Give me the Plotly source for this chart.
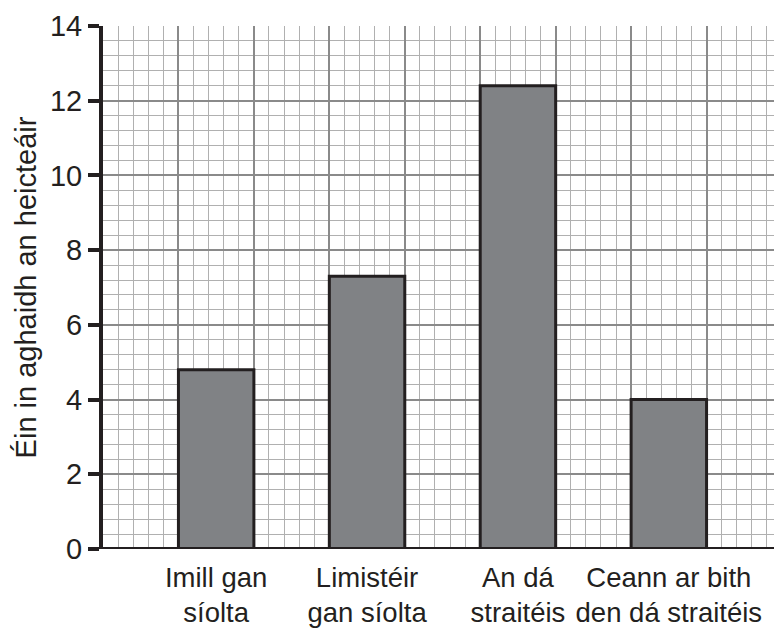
import plotly.graph_objects as go

categories = ["Imill gan<br>síolta", "Limistéir<br>gan síolta", "An dá<br>straitéis", "Ceann ar bith<br>den dá straitéis"]
values = [4.8, 7.3, 12.4, 4.0]
y_title = "Éin in aghaidh an heicteáir"
y_ticks = [0, 2, 4, 6, 8, 10, 12, 14]

INK = "#231f20"
FONT = "Liberation Sans, Arial, Helvetica, sans-serif"
FS = 29

fig = go.Figure()
fig.add_trace(go.Bar(
    x=categories, y=values, width=0.5,
    marker=dict(color="#808285", line=dict(color=INK, width=3)),
    hoverinfo="y",
))
# empty helper trace so the overlaid grid axis is created
fig.add_trace(go.Scatter(x=[], y=[], xaxis="x2", yaxis="y", hoverinfo="skip", showlegend=False))

fig.update_layout(
    width=774, height=624,
    margin=dict(l=95, r=0, t=18, b=83),
    paper_bgcolor="white", plot_bgcolor="white",
    showlegend=False,
    font=dict(family=FONT, color=INK, size=FS),
    xaxis=dict(
        type="category", range=[-0.75, 3.75], automargin=False,
        showgrid=False, ticks="", showline=False, zeroline=False,
        tickfont=dict(size=27.5, color=INK), ticklabelstandoff=9,
    ),
    xaxis2=dict(
        overlaying="x", anchor="y", range=[0, 45], side="bottom", automargin=False,
        showticklabels=False, ticks="", showline=False, zeroline=False,
        dtick=5, tick0=0, showgrid=True, gridcolor="#8a8a8a", gridwidth=1.5,
        minor=dict(dtick=1, tick0=0, showgrid=True, gridcolor="#b0b0b0", gridwidth=1),
    ),
    yaxis=dict(
        range=[0, 14], tickvals=y_ticks, automargin=False,
        showgrid=True, gridcolor="#8a8a8a", gridwidth=1.5,
        minor=dict(dtick=0.4, tick0=0, showgrid=True, gridcolor="#b0b0b0", gridwidth=1),
        showline=True, linecolor=INK, linewidth=4,
        ticks="outside", ticklen=11, tickwidth=4, tickcolor=INK,
        zeroline=False,
        tickfont=dict(size=FS, color=INK),
        title=dict(text=y_title, font=dict(size=FS, color=INK), standoff=6),
    ),
)

fig.add_hline(y=0, line=dict(color=INK, width=4), layer="above")

fig.write_html("out.html")
